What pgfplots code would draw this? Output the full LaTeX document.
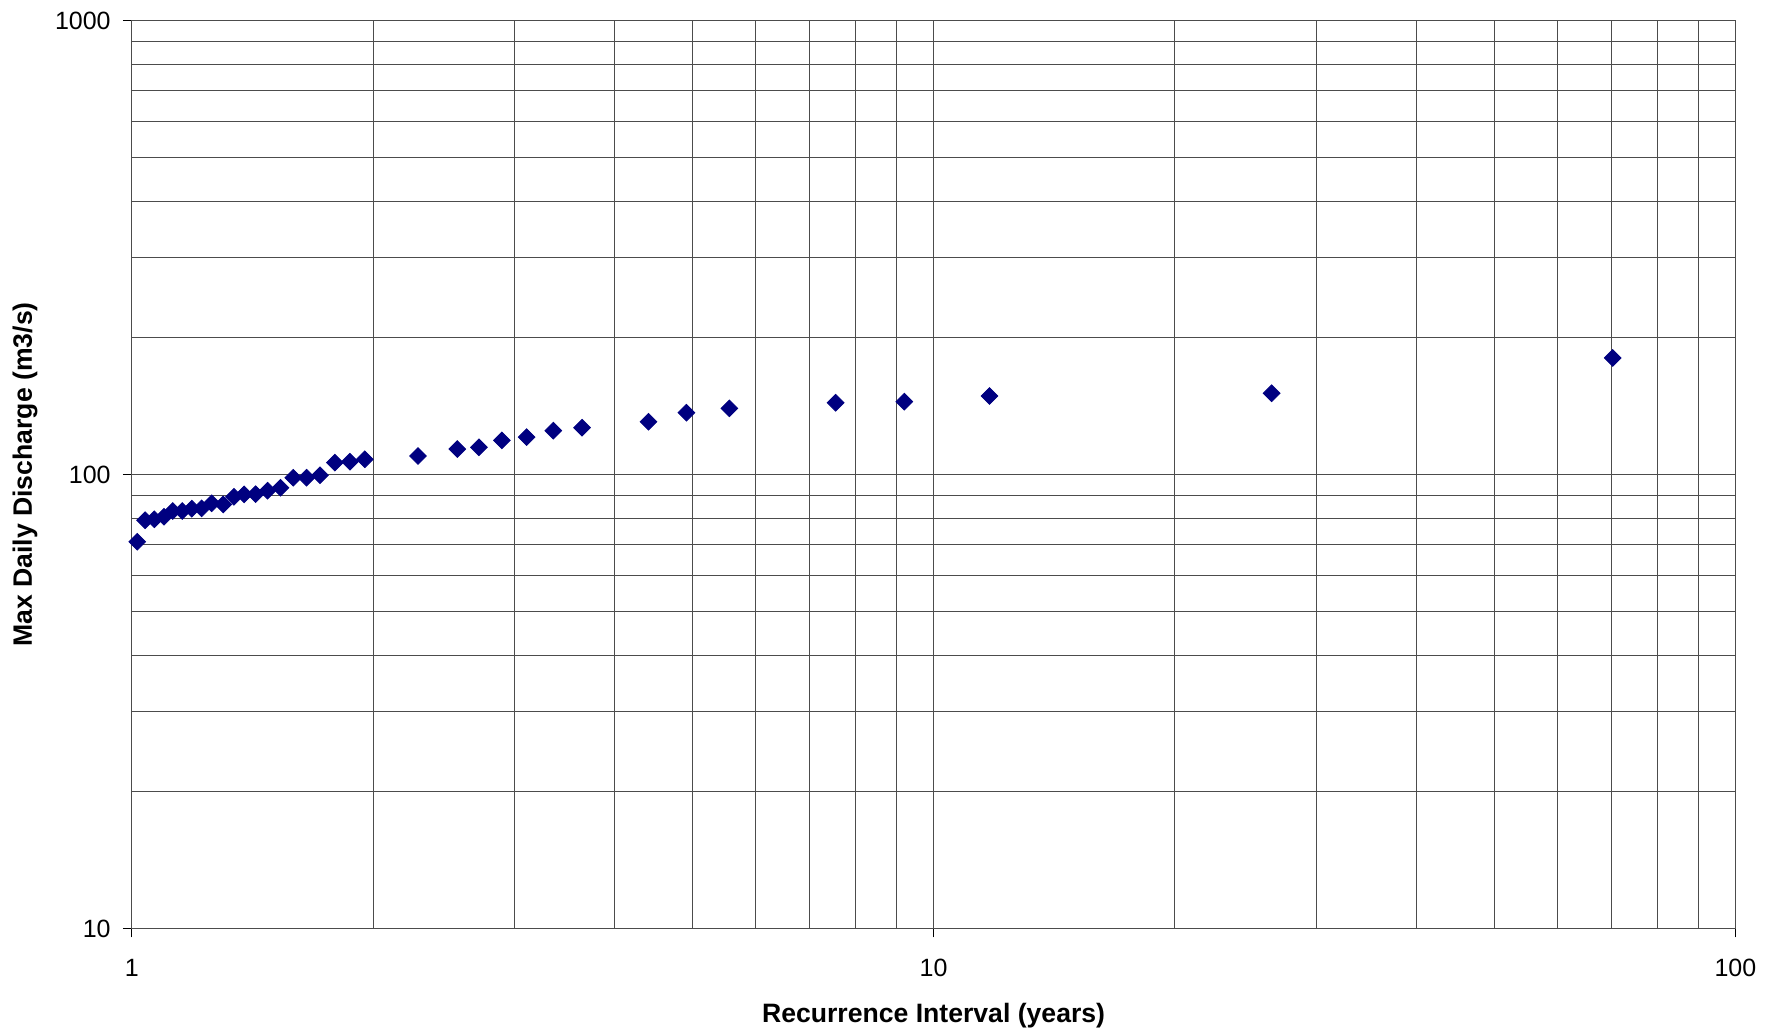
\documentclass[border=0pt]{standalone}
\usepackage{pgfplots}
\pgfplotsset{compat=1.18}
\usepackage{fontspec}
\setmainfont{Liberation Sans}
\definecolor{navy}{HTML}{000080}
\begin{document}
\begin{tikzpicture}
\useasboundingbox (-65.9pt,-52.25pt) rectangle (825.1pt,464.25pt);
\begin{axis}[
  at={(0,0)}, anchor=south west,
  scale only axis, width=801.8pt, height=454pt,
  xmode=log, ymode=log,
  xmin=1, xmax=100, ymin=10, ymax=1000,
  log basis x=10, log basis y=10,
  xtick={1,10,100}, ytick={10,100,1000},
  xticklabels={1,10,100}, yticklabels={10,100,1000},
  minor xtick={2,3,4,5,6,7,8,9,20,30,40,50,60,70,80,90},
  minor ytick={20,30,40,50,60,70,80,90,200,300,400,500,600,700,800,900},
  grid=both,
  major grid style={black!70, line width=0.5pt},
  minor grid style={black!70, line width=0.5pt},
  axis line style={black!70, line width=0.6pt},
  tick align=outside, tickpos=left,
  major tick length=4.5pt, minor tick length=0pt,
  tick style={black, line width=0.5pt},
  /pgf/number format/assume math mode=true,
  tick label style={font=\fontsize{12.5}{14}\selectfont, inner sep=0pt},
  xticklabel style={anchor=center, yshift=-15.2pt},
  yticklabel style={anchor=east, xshift=-5.9pt},
  xlabel={\textbf{Recurrence Interval (years)}},
  ylabel={\textbf{Max Daily Discharge (m3/s)}},
  label style={font=\fontsize{13.3}{15}\selectfont},
  xlabel style={at={(axis description cs:0.5,0)}, anchor=center, yshift=-43.5pt},
  ylabel style={at={(axis description cs:0,0.5)}, anchor=center, yshift=53.4pt},
]
\addplot[only marks, mark=square*, mark size=2.95pt, mark options={rotate=45, fill=navy, draw=navy}] coordinates {
(1.016,71.1) (1.039,79.3) (1.067,79.7) (1.097,80.7) (1.125,83.1)
(1.156,83.1) (1.188,84.1) (1.222,84.2) (1.258,86.4) (1.300,85.9)
(1.341,89.3) (1.381,90.4) (1.427,90.5) (1.477,92.1) (1.533,93.5)
(1.590,98.4) (1.652,98.4) (1.717,99.6) (1.792,106.2) (1.871,106.7)
(1.953,108.0) (2.275,109.8) (2.547,113.8) (2.710,114.8) (2.895,118.9)
(3.108,120.9) (3.355,124.9) (3.644,126.8) (4.41,130.7) (4.917,136.8)
(5.563,139.9) (7.548,143.9) (9.193,144.7) (11.74,148.9) (26.4,151.0)
(70.3,180.6)
};
\end{axis}
\end{tikzpicture}
\end{document}
